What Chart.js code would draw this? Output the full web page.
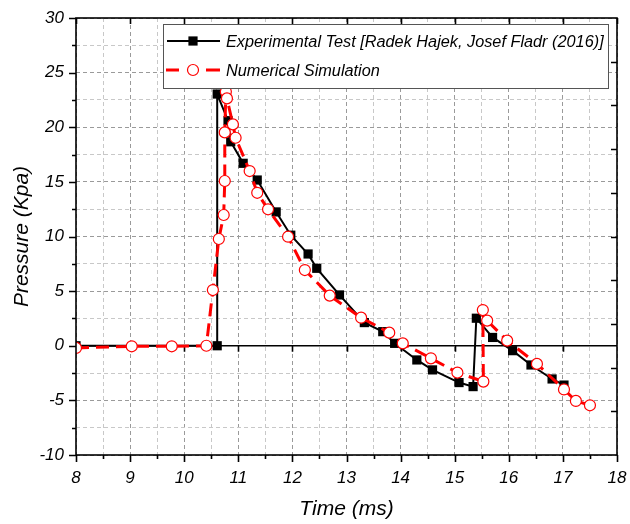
<!DOCTYPE html>
<html>
<head>
<meta charset="utf-8">
<script src="https://cdn.jsdelivr.net/npm/chart.js@4.4.1/dist/chart.umd.min.js"></script>
<style>
html,body{margin:0;padding:0;background:#fff;}
#wrap{width:630px;height:524px;position:relative;}
</style>
</head>
<body>
<div id="wrap"><canvas id="c" width="630" height="524"></canvas></div>
<script>
// ---- data ----
const expTime = [8.0, 10.61, 10.61, 10.81, 10.86, 11.09, 11.35, 11.70, 11.97, 12.29, 12.45, 12.87, 13.33, 13.67, 13.89, 14.30, 14.59, 15.08, 15.34, 15.40, 15.70, 16.07, 16.41, 16.80, 17.02];
const expPressure = [0, 0, 23.04, 20.6, 18.67, 16.7, 15.17, 12.25, 10.12, 8.4, 7.09, 4.65, 2.12, 1.29, 0.22, -1.3, -2.21, -3.37, -3.74, 2.52, 0.76, -0.45, -1.76, -3.04, -3.6];
const simTime = [8.0, 9.03, 9.77, 10.41, 10.53, 10.64, 10.73, 10.75, 10.75, 10.77, 10.79, 10.90, 10.95, 11.21, 11.35, 11.55, 11.92, 12.23, 12.69, 13.27, 13.79, 14.04, 14.56, 15.05, 15.53, 15.52, 15.60, 15.97, 16.52, 17.02, 17.24, 17.50];
const simPressure = [-0.2, -0.05, -0.05, 0, 5.1, 9.77, 11.97, 15.08, 19.53, 23.25, 22.64, 20.26, 19.04, 15.99, 14.0, 12.49, 9.98, 6.93, 4.59, 2.57, 1.2, 0.22, -1.15, -2.46, -3.28, 3.27, 2.3, 0.47, -1.66, -4.0, -5.05, -5.45];
const seriesNames = ['Experimental Test [Radek Hajek, Josef Fladr (2016)]', 'Numerical Simulation'];
const xTitle = 'Time (ms)';
const yTitle = 'Pressure (Kpa)';
const xRange = [8, 18];
const yRange = [-10, 30];
const rightTickValues = [26, 22, 18, 14, 10, 6, 2, -2, -6];

const FONT = "'Liberation Sans', Arial, sans-serif";

const toXY = (xs, ys) => xs.map((x, i) => ({x: x, y: ys[i]}));

const frameTicks = {
  id: 'frameTicks',
  beforeDatasetsDraw(chart) {
    const {ctx, chartArea: a, scales: {x, y}} = chart;
    const y0 = y.getPixelForValue(0);
    ctx.save();
    ctx.strokeStyle = '#000';
    ctx.lineWidth = 1.6;
    ctx.beginPath();
    ctx.moveTo(a.left, y0); ctx.lineTo(a.right, y0);
    for (let v = 9; v <= 17; v++) {
      const px = Math.round(x.getPixelForValue(v)) + 0.5;
      ctx.moveTo(px, y0); ctx.lineTo(px, y0 + 6);
    }
    ctx.stroke();
    ctx.restore();
  },
  afterDatasetsDraw(chart) {
    const {ctx, chartArea: a, scales: {x, y}} = chart;
    ctx.save();
    ctx.strokeStyle = '#000';
    ctx.lineWidth = 1.6;
    ctx.strokeRect(a.left, a.top, a.right - a.left, a.bottom - a.top);
    ctx.beginPath();
    for (let v = xRange[0]; v <= xRange[1] + 1e-9; v += 0.5) {
      const px = Math.round(x.getPixelForValue(v)) + 0.5;
      const major = Math.abs(v - Math.round(v)) < 1e-9;
      ctx.moveTo(px, a.bottom); ctx.lineTo(px, a.bottom + (major ? 7 : 4));
      if (major) { ctx.moveTo(px, a.top); ctx.lineTo(px, a.top + 6); }
    }
    for (let v = yRange[0]; v <= yRange[1] + 1e-9; v += 2.5) {
      const py = Math.round(y.getPixelForValue(v)) + 0.5;
      const major = Math.abs(v / 5 - Math.round(v / 5)) < 1e-9;
      ctx.moveTo(a.left, py); ctx.lineTo(a.left - (major ? 7 : 4), py);
    }
    rightTickValues.forEach(v => {
      const py = Math.round(y.getPixelForValue(v)) + 0.5;
      ctx.moveTo(a.right, py); ctx.lineTo(a.right - 6, py);
    });
    ctx.stroke();
    ctx.restore();
  },
  afterDraw(chart) {
    const ctx = chart.ctx;
    const bx = 163, by = 24, bw = 445, bh = 64;
    ctx.save();
    ctx.fillStyle = '#fff';
    ctx.fillRect(bx, by, bw, bh);
    ctx.strokeStyle = '#555';
    ctx.lineWidth = 1;
    ctx.strokeRect(bx + 0.5, by + 0.5, bw, bh);
    const r1 = 41, r2 = 70;
    ctx.strokeStyle = '#000'; ctx.lineWidth = 2; ctx.setLineDash([]);
    ctx.beginPath(); ctx.moveTo(167, r1); ctx.lineTo(220, r1); ctx.stroke();
    ctx.fillStyle = '#000'; ctx.fillRect(193 - 4.6, r1 - 4.6, 9.2, 9.2);
    ctx.strokeStyle = '#ff0000'; ctx.lineWidth = 3;
    ctx.beginPath(); ctx.moveTo(166, r2); ctx.lineTo(179, r2); ctx.moveTo(206, r2); ctx.lineTo(220, r2); ctx.stroke();
    ctx.lineWidth = 1.2; ctx.fillStyle = '#fff';
    ctx.beginPath(); ctx.arc(193, r2, 5.5, 0, Math.PI * 2); ctx.fill(); ctx.stroke();
    ctx.fillStyle = '#000';
    ctx.font = 'italic 16.3px ' + FONT;
    ctx.textBaseline = 'middle';
    ctx.textAlign = 'left';
    ctx.fillText(seriesNames[0], 226, r1 + 1);
    ctx.fillText(seriesNames[1], 226, r2 + 1);
    ctx.restore();
  }
};

const gridColor = (major) => major ? '#9a9a9a' : '#c8c8c8';

new Chart(document.getElementById('c'), {
  type: 'line',
  data: {
    datasets: [
      {
        label: seriesNames[0],
        data: toXY(expTime, expPressure),
        borderColor: '#000',
        backgroundColor: '#000',
        borderWidth: 2,
        pointStyle: 'rect',
        pointRadius: 6.5,
        pointBorderWidth: 0,
        pointBackgroundColor: '#000',
        tension: 0,
        order: 2
      },
      {
        label: seriesNames[1],
        data: toXY(simTime, simPressure),
        borderColor: '#ff0000',
        borderWidth: 3,
        borderDash: [13, 7],
        pointStyle: 'circle',
        pointRadius: 5.5,
        pointBorderWidth: 1.2,
        pointBorderColor: '#ff0000',
        pointBackgroundColor: '#fff',
        tension: 0,
        order: 1
      }
    ]
  },
  options: {
    responsive: false,
    animation: false,
    devicePixelRatio: 1,
    layout: {padding: {left: 0, right: 13, top: 18, bottom: 0}},
    plugins: {legend: {display: false}, tooltip: {enabled: false}},
    scales: {
      x: {
        type: 'linear', position: 'bottom', min: xRange[0], max: xRange[1],
        afterFit: s => { s.height = 69; s.paddingLeft = 0; s.paddingRight = 0; },
        border: {display: false, dash: [4, 3]},
        grid: {
          drawTicks: false,
          lineWidth: 1,
          color: c => gridColor(Math.abs(c.tick.value - Math.round(c.tick.value)) < 1e-9)
        },
        ticks: {
          stepSize: 0.5, autoSkip: false, maxRotation: 0, padding: 13,
          color: '#000', font: {family: FONT, size: 17, style: 'italic'},
          callback: v => Math.abs(v - Math.round(v)) < 1e-9 ? String(Math.round(v)) : ''
        },
        title: {display: true, text: xTitle, color: '#000', font: {family: FONT, size: 21, style: 'italic'}, padding: {top: 0, bottom: 2}}
      },
      y: {
        type: 'linear', position: 'left', min: yRange[0], max: yRange[1],
        afterFit: s => { s.width = 76; s.paddingTop = 0; s.paddingBottom = 0; },
        border: {display: false, dash: [4, 3]},
        grid: {
          drawTicks: false,
          lineWidth: 1,
          color: c => gridColor(Math.abs(c.tick.value / 5 - Math.round(c.tick.value / 5)) < 1e-9)
        },
        ticks: {
          stepSize: 2.5, autoSkip: false, padding: 12,
          color: '#000', font: {family: FONT, size: 17, style: 'italic'},
          callback: v => Math.abs(v / 5 - Math.round(v / 5)) < 1e-9 ? String(Math.round(v)) : ''
        },
        title: {display: true, text: yTitle, color: '#000', font: {family: FONT, size: 21, style: 'italic'}, padding: {top: 10, bottom: 0}}
      }
    }
  },
  plugins: [frameTicks]
});
</script>
</body>
</html>
